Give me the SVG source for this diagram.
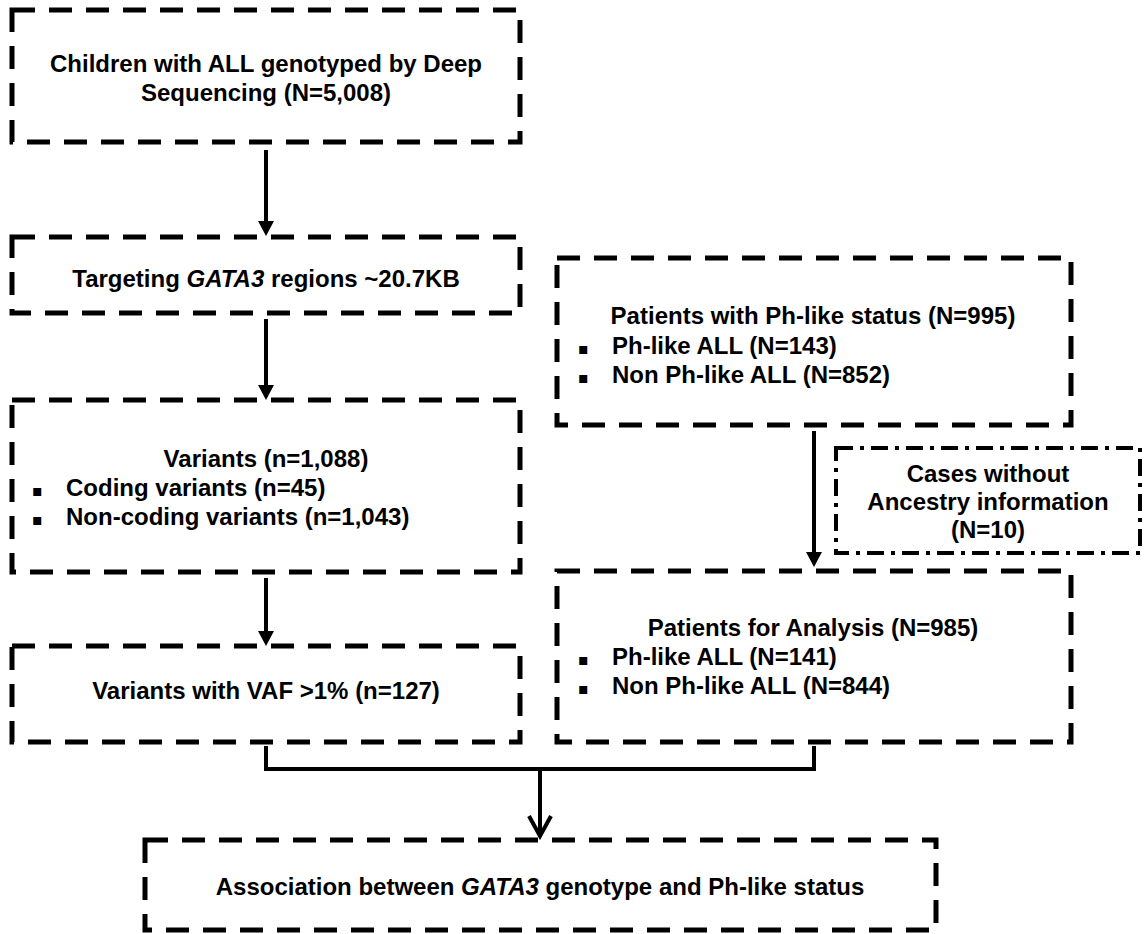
<svg xmlns="http://www.w3.org/2000/svg" width="1144" height="934" viewBox="0 0 1144 934">
<defs>
<style>
.box{fill:none;stroke:#000;stroke-width:5;stroke-dasharray:23 14;}
.dd{fill:none;stroke:#000;stroke-width:4;stroke-dasharray:17 7 4 7;}
.t{font-family:"Liberation Sans",Arial,Helvetica,sans-serif;font-weight:bold;font-size:24px;fill:#000;}
.c{text-anchor:middle;}
.b{font-family:"DejaVu Sans",sans-serif;font-size:16px;fill:#000;}
.ln{fill:none;stroke:#000;stroke-width:4;}
</style>
<marker id="tri" markerUnits="userSpaceOnUse" viewBox="0 0 15 16" markerWidth="15" markerHeight="16" refX="5" refY="8" orient="auto">
<path d="M0,0 L15,8 L0,16 z" fill="#000"/>
</marker>
<marker id="chev" markerUnits="userSpaceOnUse" viewBox="-24 -14 27 28" markerWidth="27" markerHeight="28" refX="0" refY="0" orient="auto">
<path d="M-21,-11 L-1,0 L-21,11" fill="none" stroke="#000" stroke-width="4"/>
</marker>
</defs>
<rect width="1144" height="934" fill="#fff"/>

<g id="connectors">
<line class="ln" x1="266" y1="150" x2="266" y2="226" marker-end="url(#tri)"/>
<line class="ln" x1="266" y1="319" x2="266" y2="390" marker-end="url(#tri)"/>
<line class="ln" x1="266" y1="578" x2="266" y2="636" marker-end="url(#tri)"/>
<line class="ln" x1="814" y1="431" x2="814" y2="557" marker-end="url(#tri)"/>
<polyline class="ln" points="266,746 266,769 814,769 814,746"/>
<line class="ln" x1="540" y1="769" x2="540" y2="837" marker-end="url(#chev)"/>
</g>

<g id="node-children">
<rect class="box" x="12" y="10" width="508" height="132"/>
<text class="t c" x="266" y="72">Children with ALL genotyped by Deep</text>
<text class="t c" x="266" y="101">Sequencing (N=5,008)</text>
</g>

<g id="node-targeting">
<rect class="box" x="12" y="237" width="508" height="76"/>
<text class="t c" x="266" y="287">Targeting <tspan font-style="italic">GATA3</tspan> regions ~20.7KB</text>
</g>

<g id="node-variants">
<rect class="box" x="12" y="400" width="508" height="172"/>
<text class="t c" x="266" y="467">Variants (n=1,088)</text>
<text class="b" x="32" y="496">▪</text>
<text class="t" x="66" y="496">Coding variants (n=45)</text>
<text class="b" x="32" y="525">▪</text>
<text class="t" x="66" y="525">Non-coding variants (n=1,043)</text>
</g>

<g id="node-vaf">
<rect class="box" x="12" y="646" width="508" height="96"/>
<text class="t c" x="266" y="699">Variants with VAF &gt;1% (n=127)</text>
</g>

<g id="node-phlike">
<rect class="box" x="557" y="258" width="514" height="167"/>
<text class="t c" x="813" y="324">Patients with Ph-like status (N=995)</text>
<text class="b" x="578" y="354">▪</text>
<text class="t" x="612" y="354">Ph-like ALL (N=143)</text>
<text class="b" x="578" y="383">▪</text>
<text class="t" x="612" y="383">Non Ph-like ALL (N=852)</text>
</g>

<g id="node-noancestry">
<rect class="dd" x="836" y="448" width="304" height="105"/>
<text class="t c" x="988" y="482">Cases without</text>
<text class="t c" x="988" y="510">Ancestry information</text>
<text class="t c" x="988" y="538">(N=10)</text>
</g>

<g id="node-analysis">
<rect class="box" x="557" y="571" width="514" height="171"/>
<text class="t c" x="813" y="636">Patients for Analysis (N=985)</text>
<text class="b" x="578" y="665">▪</text>
<text class="t" x="612" y="665">Ph-like ALL (N=141)</text>
<text class="b" x="578" y="694">▪</text>
<text class="t" x="612" y="694">Non Ph-like ALL (N=844)</text>
</g>

<g id="node-association">
<rect class="box" x="145" y="840" width="791" height="90"/>
<text class="t c" x="540" y="895">Association between <tspan font-style="italic">GATA3</tspan> genotype and Ph-like status</text>
</g>
</svg>
